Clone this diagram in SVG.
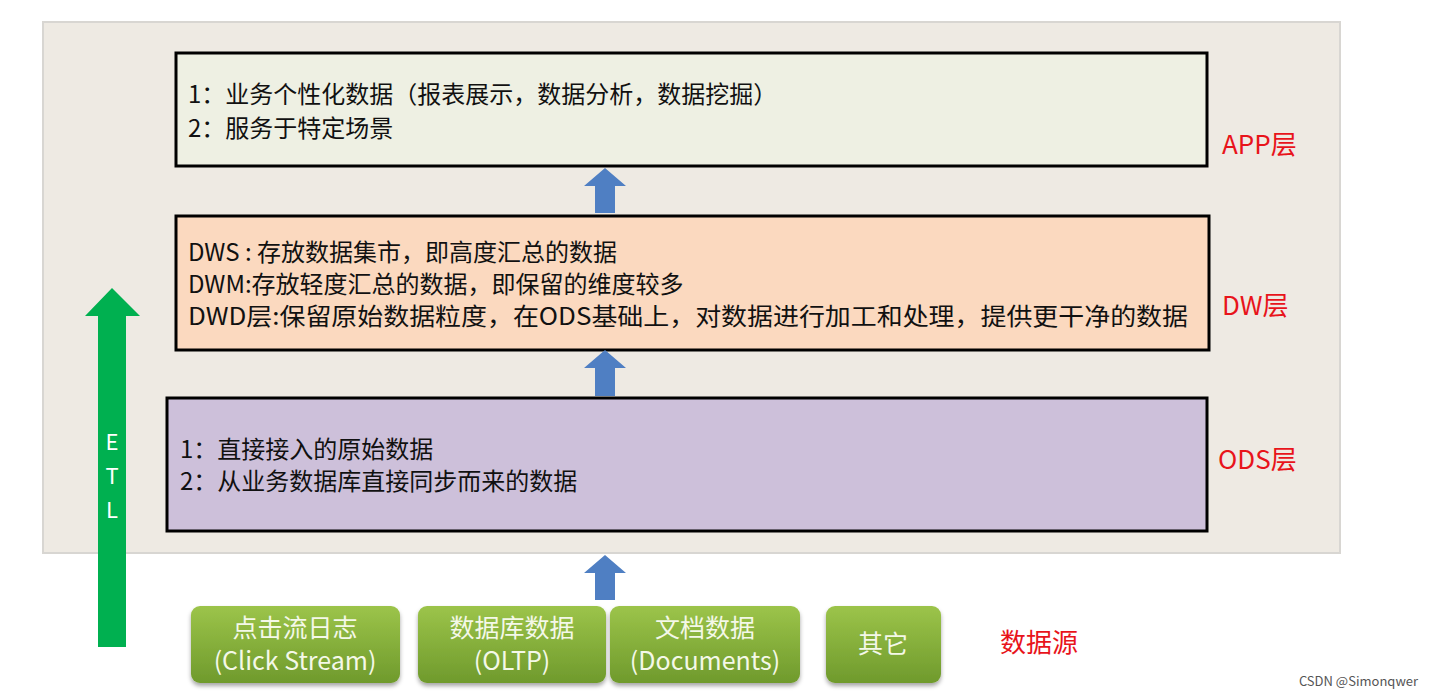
<svg xmlns="http://www.w3.org/2000/svg" width="1433" height="698" viewBox="0 0 1433 698">
<style>
text{font-family:"Noto Sans CJK SC","Noto Sans",sans-serif}
.t{font-size:24px;fill:#111}
.lab{font-size:26px;fill:#e8141b}
.layer{stroke:#000;stroke-width:3}
.btn{fill:url(#g)}
.bt{font-size:25px;fill:#f4f8e8;text-anchor:middle}
.blue{fill:#4f7fc3}
</style>
<defs>
<linearGradient id="g" x1="0" y1="0" x2="0" y2="1"><stop offset="0" stop-color="#9cc44a"/><stop offset="1" stop-color="#6f9a2c"/></linearGradient>
<filter id="sh"><feDropShadow dx="0" dy="3" stdDeviation="2" flood-opacity="0.35"/></filter>
</defs>
<rect x="0" y="0" width="1433" height="698" fill="#fff"/>
<rect x="43" y="22" width="1297" height="531" fill="#eeeae3" stroke="#d8d6d2" stroke-width="2"/>
<g id="app"><rect class="layer" x="176" y="53" width="1031" height="113" fill="#eef0e3"/>
<text class="t" x="188" y="103">1：业务个性化数据（报表展示，数据分析，数据挖掘）</text>
<text class="t" x="188" y="137">2：服务于特定场景</text></g>
<g id="dw"><rect class="layer" x="176" y="216" width="1033" height="134" fill="#fbd9bf"/>
<text class="t" x="188" y="261">DWS : 存放数据集市，即高度汇总的数据</text>
<text class="t" x="188" y="293">DWM:存放轻度汇总的数据，即保留的维度较多</text>
<text class="t" x="188" y="325" textLength="1000" lengthAdjust="spacingAndGlyphs">DWD层:保留原始数据粒度，在ODS基础上，对数据进行加工和处理，提供更干净的数据</text></g>
<g id="ods"><rect class="layer" x="167" y="398" width="1040" height="133" fill="#cdc0da"/>
<text class="t" x="180" y="458">1：直接接入的原始数据</text>
<text class="t" x="180" y="490">2：从业务数据库直接同步而来的数据</text></g>
<g id="labels">
<text class="lab" x="1222" y="154">APP层</text>
<text class="lab" x="1222" y="315">DW层</text>
<text class="lab" x="1218" y="469">ODS层</text>
<text class="lab" x="1000" y="652">数据源</text></g>
<g id="connectors">
<polygon class="blue" points="605,168 626,186 615,186 615,213 595,213 595,186 584,186"/>
<polygon class="blue" points="605,350 626,368 615,368 615,396 595,396 595,368 584,368"/>
<polygon class="blue" points="605,555 626,573 615,573 615,600 595,600 595,573 584,573"/>
<polygon fill="#00b050" points="112,288 140,316 126,316 126,647 98,647 98,316 85,316"/>
<text x="112" y="450" font-size="22" fill="#fff" text-anchor="middle">E</text>
<text x="112" y="484" font-size="22" fill="#fff" text-anchor="middle">T</text>
<text x="112" y="518" font-size="22" fill="#fff" text-anchor="middle">L</text>
</g>
<g id="src1"><rect class="btn" filter="url(#sh)" x="191" y="606" width="209" height="77" rx="9"/><text class="bt" x="295" y="637">点击流日志</text><text class="bt" x="295" y="670">(Click Stream)</text></g>
<g id="src2"><rect class="btn" filter="url(#sh)" x="418" y="606" width="188" height="77" rx="9"/><text class="bt" x="512" y="637">数据库数据</text><text class="bt" x="512" y="670">(OLTP)</text></g>
<g id="src3"><rect class="btn" filter="url(#sh)" x="610" y="606" width="190" height="77" rx="9"/><text class="bt" x="705" y="637">文档数据</text><text class="bt" x="705" y="670">(Documents)</text></g>
<g id="src4"><rect class="btn" filter="url(#sh)" x="826" y="606" width="115" height="77" rx="9"/><text class="bt" x="883" y="653">其它</text></g>
<text x="1418" y="686" font-size="13" fill="#555" text-anchor="end">CSDN @Simonqwer</text>
</svg>
